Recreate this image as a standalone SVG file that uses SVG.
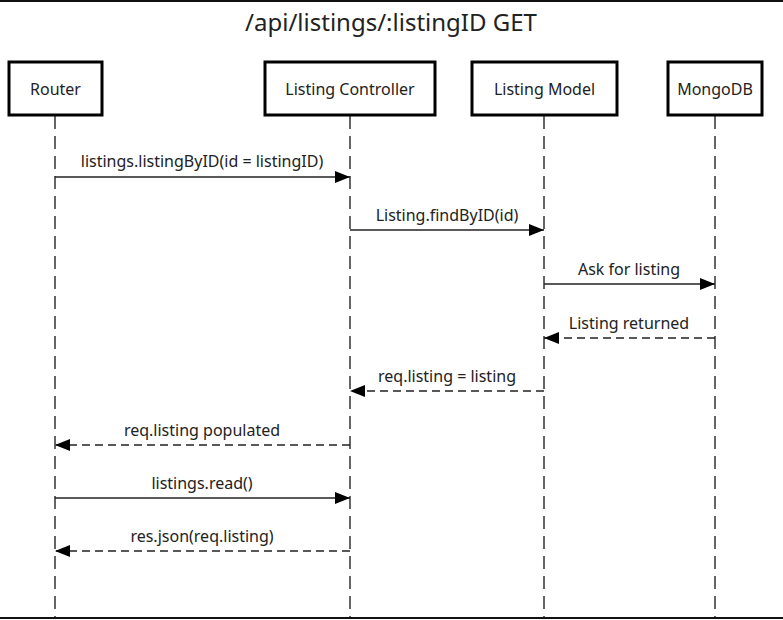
<svg xmlns="http://www.w3.org/2000/svg" width="783" height="620" viewBox="0 0 783 620">
<style>
text{font-family:"Noto Sans","Open Sans","DejaVu Sans",sans-serif;fill:#222;}
.title{font-size:24px;text-anchor:middle;}
.box{fill:#fff;stroke:#000;stroke-width:3;}
.nlabel{font-size:16px;text-anchor:middle;}
.life{stroke:#333;stroke-width:1.5;stroke-dasharray:13 7;fill:none;}
.msg{stroke:#222;stroke-width:1.3;fill:none;}
.ret{stroke:#222;stroke-width:1.3;fill:none;stroke-dasharray:8 5;}
.mlabel{font-size:16px;text-anchor:middle;}
.frame{stroke:#111;stroke-width:2;}
</style>
<defs>
<marker id="ah" viewBox="0 0 15 12" refX="15" refY="6" markerWidth="15" markerHeight="12" markerUnits="userSpaceOnUse" orient="auto">
<path d="M0,0 L15,6 L0,12 z" fill="#000"/>
</marker>
</defs>
<rect width="783" height="620" fill="#fff"/>
<line class="frame" x1="0" y1="1" x2="783" y2="1"/>
<line class="frame" x1="0" y1="618" x2="783" y2="618"/>
<text class="title" x="391" y="31">/api/listings/:listingID GET</text>
<g id="lifelines">
<line class="life" x1="55" y1="116" x2="55" y2="617"/>
<line class="life" x1="350" y1="116" x2="350" y2="617"/>
<line class="life" x1="544" y1="116" x2="544" y2="617"/>
<line class="life" x1="715" y1="116" x2="715" y2="617"/>
</g>
<g id="router"><rect class="box" x="9" y="62" width="93" height="53"/><text class="nlabel" x="55.5" y="94.5">Router</text></g>
<g id="controller"><rect class="box" x="265" y="62" width="170" height="53"/><text class="nlabel" x="350" y="94.5">Listing Controller</text></g>
<g id="model"><rect class="box" x="472" y="62" width="145" height="53"/><text class="nlabel" x="544.5" y="94.5">Listing Model</text></g>
<g id="mongodb"><rect class="box" x="668" y="62" width="94" height="53"/><text class="nlabel" x="715" y="94.5">MongoDB</text></g>
<g id="connectors">
<line class="msg" x1="55" y1="177" x2="350" y2="177" marker-end="url(#ah)"/>
<text class="mlabel" x="202" y="167">listings.listingByID(id = listingID)</text>
<line class="msg" x1="350" y1="230" x2="544" y2="230" marker-end="url(#ah)"/>
<text class="mlabel" x="447" y="221">Listing.findByID(id)</text>
<line class="msg" x1="544" y1="284" x2="715" y2="284" marker-end="url(#ah)"/>
<text class="mlabel" x="629" y="275">Ask for listing</text>
<line class="ret" x1="715" y1="338" x2="544" y2="338" marker-end="url(#ah)"/>
<text class="mlabel" x="629" y="329">Listing returned</text>
<line class="ret" x1="544" y1="391" x2="350" y2="391" marker-end="url(#ah)"/>
<text class="mlabel" x="447" y="382">req.listing = listing</text>
<line class="ret" x1="350" y1="445" x2="55" y2="445" marker-end="url(#ah)"/>
<text class="mlabel" x="202" y="436">req.listing populated</text>
<line class="msg" x1="55" y1="498" x2="350" y2="498" marker-end="url(#ah)"/>
<text class="mlabel" x="202" y="489">listings.read()</text>
<line class="ret" x1="350" y1="551" x2="55" y2="551" marker-end="url(#ah)"/>
<text class="mlabel" x="202" y="542">res.json(req.listing)</text>
</g>
</svg>
